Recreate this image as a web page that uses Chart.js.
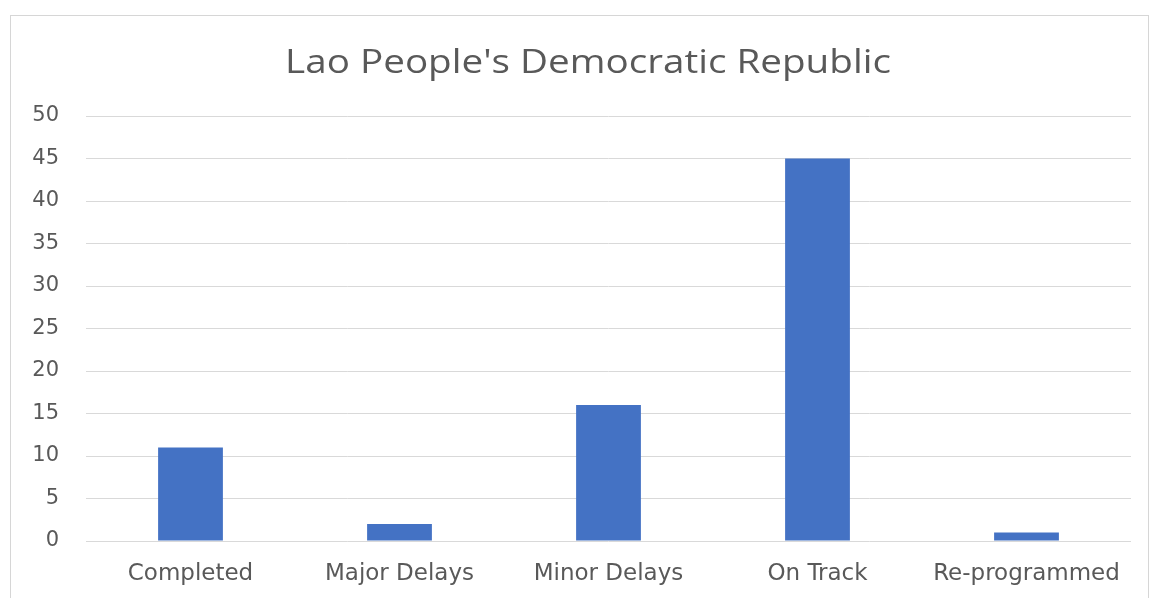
<!DOCTYPE html>
<html>
<head>
<meta charset="utf-8">
<script src="https://cdn.jsdelivr.net/npm/chart.js@4/dist/chart.umd.min.js"></script>
<style>
  html, body { margin: 0; padding: 0; background: #fff; }
  #wrap { position: relative; width: 1152px; height: 598px; overflow: hidden; }
  #frame { position: absolute; left: 10px; top: 15px; width: 1139px; height: 620px; border: 1px solid #d6d6d6; box-sizing: border-box; }
  #linhas { position: absolute; left: 0; top: 0; }
</style>
</head>
<body>
<div id="wrap">
  <div id="frame"></div>
  <canvas id="linhas" width="1152" height="598"></canvas>
</div>
<script>
const chartTitle = "Lao People's Democratic Republic"
const categories = ['Completed', 'Major Delays', 'Minor Delays', 'On Track', 'Re-programmed']
const projectCounts = [11, 2, 16, 45, 1]
const yMax = 50
const yStep = 5

const textGray = '#595959'

// title drawn by hand, a bit stretched sideways like the original
const titlePlugin = {
  id: 'titleText',
  afterDraw(chart) {
    const c = chart.ctx
    c.save()
    c.font = '33px "Open Sans"'
    c.fillStyle = textGray
    c.textAlign = 'center'
    c.textBaseline = 'alphabetic'
    c.translate(588, 73)
    c.scale(1.17, 1)
    c.fillText(chartTitle, 0, 0)
    c.restore()
  }
}

var ctx = document.getElementById('linhas').getContext('2d');

var myChart = new Chart(ctx, {
  type: 'bar',
  data: {
    labels: categories,
    datasets: [{
      data: projectCounts,
      backgroundColor: '#4472C4',
      borderWidth: 0,
      barPercentage: 0.31,
      categoryPercentage: 1
    }]
  },
  options: {
    responsive: false,
    animation: false,
    layout: {
      padding: { top: 116, right: 21, bottom: 0, left: 0 }
    },
    plugins: {
      legend: { display: false },
      tooltip: { enabled: false }
    },
    scales: {
      x: {
        grid: { display: false },
        border: { display: false },
        ticks: {
          color: textGray,
          padding: 11,
          maxRotation: 0,
          font: { family: 'DejaVu Sans', size: 23 }
        },
        afterFit: (scale) => { scale.height = 57 }
      },
      y: {
        min: 0,
        max: yMax,
        border: { display: false },
        grid: { color: '#d9d9d9', lineWidth: 1, drawTicks: false },
        ticks: {
          stepSize: yStep,
          color: textGray,
          padding: 27,
          font: { family: 'DejaVu Sans', size: 21 }
        },
        afterFit: (scale) => { scale.width = 86 }
      }
    }
  },
  plugins: [titlePlugin]
});
</script>
</body>
</html>
